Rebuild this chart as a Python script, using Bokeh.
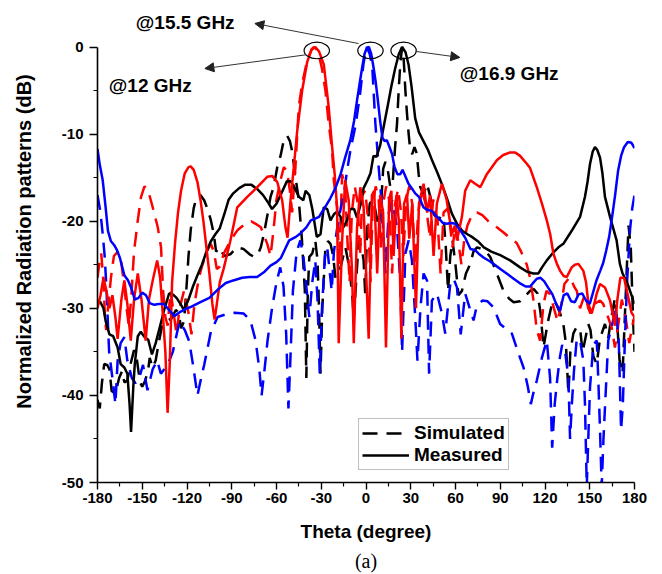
import numpy as np
from bokeh.plotting import figure
from bokeh.models import (Range1d, FixedTicker, Legend, LegendItem, Label, Arrow,
                          NormalHead, Title)
from bokeh.embed import file_html
from bokeh.resources import INLINE

# ---------------- data (theta in degree, normalized pattern in dB) ----------------
red_sim_x = [-180, -178.5, -177.5, -176, -175, -174.2, -173, -171, -169, -166.5, -164, -162, -160.5, -159,
             -157.5, -155.5, -153, -150.8, -148.5, -146.3, -143, -139.6, -137.4, -136, -134.5, -133, -131,
             -129, -127, -125, -122, -119, -117, -115, -112, -110, -106.5, -104, -102, -100, -98, -95.3,
             -90.8, -86, -81, -77, -74, -70.5, -66.2, -64, -62, -60, -57.3, -55.1, -53, -51, -49.5, -48.3,
             -47.3, -45.1, -42.8, -39.4, -36.5, -35, -33.5, -31.7, -29.5, -27.2, -25, -22.7, -21.6, -19.4,
             -18, -16, -14, -12.5, -11, -9.5, -7.5, -5.5, -4, -2.5, -0.5, 1.5, 3, 4.5, 6.5, 8.5, 10, 11.5,
             13.5, 15.5, 17.5, 19.5, 21.5, 23.5, 25, 27, 29, 31, 33, 35, 37.5, 40, 43, 45, 48, 50, 52, 55,
             58, 60, 62, 64, 66, 68, 71, 74.4, 78, 82, 87.7, 92.2, 97, 101, 104, 107.8, 110, 112.2, 114.5,
             116.7, 119, 121, 123.4, 126, 128.5, 131, 133, 136.8, 139.5, 141.3, 143.5, 145.5, 147, 149,
             150.5, 153, 156.9, 159, 161.4, 164.7, 166.9, 169, 171.5, 174, 176.5, 178.5, 180]
red_sim_y = [-26.5, -24.5, -23.7, -27, -31, -32.5, -30, -26.5, -24, -23.5, -24.8, -27.5, -30, -32,
             -29, -23.5, -19.9, -17.2, -16, -16.3, -18.4, -20.7, -23, -28, -31, -32, -28,
             -30.5, -33, -30, -28, -30.5, -33, -29.5, -26.5, -25.2, -23.4, -22.6, -23.5, -25.5, -25.2, -23.7,
             -22.2, -21, -20.3, -20, -20.3, -20.7, -22.6, -24, -21, -17.5, -15.3, -13.8, -14.2, -16.5, -19, -16,
             -13.8, -6.9, -4.2, -1.5, -0.3, 0, -0.2, -0.8, -2.5, -5, -8.8, -11.9, -15.3, -18.4,
             -25, -14.6, -16, -22, -27, -19, -16, -18, -24, -17, -16.5, -20, -27, -18, -16, -17.5, -23, -18,
             -16, -17.5, -26, -18, -16.3, -19, -24, -17.5, -16, -18, -25, -19, -16.5, -18, -22, -17.5, -20, -26, -19, -18.5,
             -23, -20.5, -22.5, -25, -22, -20.5, -19.3, -19, -19.3, -20, -20.7, -21.3, -22, -22.5, -23.5, -25, -26.5, -29, -32.5,
             -33.7, -29.5, -28, -28.4, -30, -31.5, -29.5, -27.2, -26.4, -27.5, -28, -30, -29, -28.4, -30,
             -30.6, -29.5, -29.1, -29.5, -30.6, -32.2, -34.5, -32, -29, -31, -34, -32, -31]

red_meas_x = [-180, -178, -176, -174, -172, -170, -168, -166.5, -164, -162, -160, -157.7, -155.5, -153, -150.5,
              -147.7, -145.5, -143, -140, -138, -136.5, -134.5, -133, -131.5, -130, -128, -126, -124, -121.5,
              -119, -117.5, -115.5, -113, -111, -109, -107, -105, -103, -101.5, -100, -98, -95.5, -91, -86.3,
              -79.6, -72.9, -66.2, -62.9, -59.5, -56.2, -54, -52.6, -50.6, -48.4, -46.1, -42.8, -39.4, -36.5,
              -34, -31.5, -28.3, -25, -22.7, -21, -19.4, -18.3, -16, -14, -11.6, -9.3, -8.2, -6, -3.8, -1.6,
              1.8, 4, 5.5, 7.5, 9.5, 11.5, 13.4, 15.5, 17, 18.5, 20.5, 22, 23.7, 25.5, 27.5, 29, 31, 33.5,
              35.5, 38.6, 41, 43, 45.3, 47.5, 50.9, 54, 57.6, 59.5, 61, 64.3, 66.5, 69.9, 73.2, 76.6, 81,
              87.7, 92, 96.6, 100, 103.3, 107.8, 110, 114.5, 118, 121.2, 123.5, 125.6, 128, 130.1, 132.5,
              134.6, 137.9, 140, 142.4, 145.7, 147.5, 149.1, 151.3, 153, 154.7, 156.9, 160.2, 163.6, 166.9,
              168.5, 170.5, 173, 175.5, 178, 180]
red_meas_y = [-30, -28.5, -26.5, -28, -30, -28.5, -31, -33.5, -29, -26.8, -29.5, -33.7, -29, -26, -29,
              -33.7, -29, -26.8, -24.5, -26.5, -30, -35, -42, -36, -27, -22.5, -19, -16.5, -14.5,
              -13.8, -13.7, -14.1, -15.5, -17.5, -20, -23, -26, -29.5, -31.3, -29.5, -27, -25.5, -22.3, -18.4,
              -17.2, -16.1, -14.9, -14.8, -15.5, -17.6, -20.7, -21.9, -17.6, -13.8, -9.6, -5, -1.7, -0.3,
              0, -0.5, -2, -6.9, -11.5, -14.6, -18.4, -34, -22.2, -15.3, -17.6, -26, -34, -20.7, -16.1, -18.4,
              -33.5, -17, -16.5, -26, -17, -19, -34.5, -17.5, -16.5, -24, -17, -20, -33.5, -18, -16.9, -22, -18, -30,
              -18, -15.7, -19, -17, -24, -18, -15.7, -17.5, -21.5, -20.5, -22.2, -19.5, -16.5, -15.3, -15.7, -16.1, -14.6,
              -13, -12.4, -12.1, -12.1, -12.5, -13.4, -13.9, -16.1, -18, -19.9, -21.5, -23.7, -24.9, -25.7, -26.3,
              -26.4, -25.3, -25, -24.9, -25.7, -27, -29.5, -30.6, -29.5, -28.3, -27.2, -27.6, -29.1, -32,
              -29, -26.5, -26.5, -28.5, -30.5, -31]

blue_sim_x = [-180, -178, -176.5, -175.2, -174.2, -173.2, -172.2, -170, -168, -166.5, -164.5, -162, -160, -157,
              -154.5, -152, -149.5, -146.5, -143, -140, -137.5, -133, -129.5, -125, -121.5, -118.5, -115.5,
              -113, -110.5, -108.5, -104, -99.5, -94, -88, -82, -77.5, -74, -71.5, -70, -68, -66, -63, -60,
              -57.5, -55.3, -53.5, -52, -50.5, -49, -46.5, -44, -42, -40, -38, -36, -34, -32.5, -31, -29.5,
              -27.5, -26, -24.5, -23, -21.5, -19.5, -17.5, -15, -12.5, -10.5, -7, -4, -1.6, 0.5, 2.5, 4.2,
              6.3, 8.5, 10.8, 13, 15.2, 17.5, 20.8, 23, 24.2, 26.4, 28.6, 30.8, 33, 34.5, 36.5, 38.6, 40.9,
              42.3, 44.2, 47.6, 50.9, 53.1, 56.5, 58.7, 61, 63.5, 66.5, 69.9, 72.1, 74, 78, 81.5, 85.5, 89.9,
              97.8, 103.3, 105.6, 108.5, 110.5, 112.5, 114.5, 117.9, 121.2, 123.4, 124.8, 126.5, 128.3, 130.1,
              131.5, 133.5, 135.7, 136.8, 138, 139.5, 141.3, 143.5, 145.7, 146.8, 148, 149.2, 150.2, 152.4,
              154.7, 155.7, 156.9, 158, 159.2, 160.2, 162.4, 165.5, 167.5, 169.5, 171, 172.2, 173.5, 175, 177,
              178.5, 180]
blue_sim_y = [-17, -19, -21.5, -24, -27, -31, -35, -38, -41, -36, -34, -33.3, -36, -38,
              -38.6, -38, -36.5, -39.4, -37, -36, -37.5, -36.5, -35, -31.5, -32.5, -33.8, -37,
              -40, -38, -36.5, -32.7, -31, -30.7, -30.5, -30.6, -31.4, -33.7, -37, -40, -37, -33.7, -30, -27,
              -25.3, -27.5, -33, -41.5, -35, -28, -23.5, -22.2, -24, -27.5, -31, -27, -24.5, -29, -37.5, -30,
              -24, -23, -25.5, -28, -23.5, -21, -19, -17, -14, -11.9, -9, -5.4, -1.8, 0, -0.8, -2.3,
              -8.8, -13.8, -18.5, -26, -19.1, -17.6, -20.7, -27, -35, -23.7, -22.2, -24.5, -31, -36, -30, -26, -26.8,
              -37.5, -29.1, -28.3, -30.6, -32.9, -27.2, -26.6, -27.6, -33, -28.3, -30.2, -31.4, -29.9, -29.1, -29.2, -29.9, -31.8,
              -32.9, -35.7, -36.8, -39, -41, -39.5, -38.3, -35.7, -33.7, -38, -46, -41, -38, -35.5,
              -34.2, -35, -38, -45, -41, -37, -33.5, -33.7, -36, -41, -50.5, -44, -39, -34.2,
              -33.7, -38, -44, -50.5, -45, -41.4, -33.7, -31.5, -30, -34, -44, -41, -34, -27, -21,
              -18.5, -17]

blue_meas_x = [-180, -178.5, -176.5, -174.5, -173, -171, -169, -167, -165, -162, -159.5, -157.5, -155, -152.5,
               -150, -147.5, -145, -142, -139, -135.5, -132, -128.5, -124.5, -121, -117, -111, -105, -99, -94,
               -89, -83, -78, -73, -68, -64, -60, -57, -54, -51.5, -47, -44, -40, -37, -34, -31.5, -27.5, -24,
               -20.5, -17, -14, -10.5, -8, -6, -4, -2.5, -1, 0.5, 2, 3.5, 5, 6.5, 8, 9.5, 11, 12.5, 14, 16,
               17.5, 19, 21, 23, 24.5, 26.5, 28.5, 31, 33, 35.5, 38.5, 41, 44, 46.5, 49, 51.5, 54, 57, 60, 63,
               66.5, 70, 73, 76, 79, 83, 87, 91, 95, 99, 103, 107, 110, 112.5, 114.5, 117, 119.5, 122, 125,
               127.5, 130, 132.5, 135, 137.5, 140, 142.5, 145, 147.5, 150, 152, 154.5, 157, 159, 161, 163, 165,
               167, 169, 171, 173, 175.5, 178, 180]
blue_meas_y = [-11.7, -13.5, -15.3, -18.5, -21.1, -22.3, -22.7, -23.3, -24.2, -26.2, -26.8, -27.6, -29, -28.8,
               -28.2, -28.5, -29.4, -29.6, -29.5, -29.5, -30.2, -30.9, -30.4, -30.1, -29.8, -29.3, -28.8, -27.8, -27.1,
               -26.8, -26.5, -26.4, -26.4, -25.8, -25.1, -24.7, -24.2, -23.1, -22.2, -21.8, -21.4, -20.7, -19.9, -19.7, -19.5, -18.4, -17.4,
               -16.2, -14.6, -12.7, -10.7, -8.5, -6.1, -3.9, -2.3, -0.8, -0.1, 0, -0.8, -2.3, -4, -6.2, -8.5, -10.4, -10.8, -10.7, -11.6,
               -12.3, -13.7, -14.6, -14.6, -14.1, -14.9, -15.7, -16.3, -16.8, -17.2, -18.4, -18.7, -18.8, -19.3, -19.7, -20.2, -20.3, -20.2, -20.3, -21,
               -21.9, -23.2, -23.3, -23.8, -24.2, -24.6, -25.1, -25.6, -26.1, -26.6, -27.1, -27.5, -27.5, -27, -26.6, -26.5, -26.9, -27.6, -28.4,
               -29.5, -30.3, -28.5, -28.3, -29.2, -29.3, -28.4, -28.3, -29.1, -29.5, -28.3, -26.8, -25.7, -24.8, -23.4, -21.8, -19.5,
               -17, -14.2, -12.5, -11.5, -10.9, -11, -11.6]

black_sim_x = [-180, -178.5, -177, -175.5, -173.5, -172, -170.5, -168, -165.5, -163.5, -162, -160, -158, -155.5,
               -153.5, -151.5, -150, -148, -146, -145, -143, -141, -139, -136.5, -133, -130.5, -127.5, -125.5,
               -124, -122, -120.5, -119, -117.5, -115.5, -113.5, -111, -108.5, -106, -104, -102, -100.5, -98.5,
               -95, -91, -86.5, -82, -78, -75, -72.5, -70.5, -68.5, -66, -64, -61.8, -59.5, -57.3, -55, -52.8,
               -51, -49.5, -47.3, -45.1, -43, -41, -40, -39, -38, -36, -34, -32.5, -31.5, -30.5, -29.3, -27.2,
               -25.5, -23.8, -22, -20.5, -19.4, -17.1, -13.8, -11, -9, -8.2, -7, -4.9, -3, -1.6, -0.5, 0.7, 2.5,
               4.1, 6, 8.5, 10, 11.5, 13, 14.5, 16.3, 18, 19.5, 20.8, 21.9, 23, 24.2, 25.3, 26.4, 27.5, 28.6,
               29.7, 31, 32.5, 34, 35.3, 36.4, 38.6, 40.9, 43.1, 45.4, 48.7, 50, 52, 53.5, 55, 56.5, 58, 60,
               62, 64.3, 67, 69.9, 72, 74.4, 78, 81, 83.3, 87.7, 92.2, 96, 99, 103.3, 106.7, 110, 112.5, 115,
               117, 119, 120.5, 122, 124, 125.6, 127.5, 130, 132.3, 134, 135.7, 137, 139, 141, 143.5, 145.2,
               146.8, 149, 150.5, 152.4, 154.7, 156.9, 158, 160.2, 162.4, 164.5, 166.9, 168.5, 170, 172, 174,
               176, 177.5, 179, 180]
black_sim_y = [-40.5, -41.5, -38.5, -36.4, -36.5, -37, -39.5, -39.8, -38, -37.2, -38.5, -38.3, -36.5, -34.8,
               -36, -38.5, -39, -38.3, -37, -35.7, -36.8, -36, -34, -31.8, -31.4, -31.2, -30.2, -30.5,
               -32.3, -31.5, -28, -24, -21, -18.5, -17.2, -17, -17.6, -18.7, -19.9, -21.5, -23.5, -23,
               -24, -23.8, -23, -23.2, -23.8, -24.1, -23.8, -23, -21.5, -19.2, -17.2, -16, -13.8, -12.5, -10.6, -10.2,
               -10.8, -12, -14.9, -17.5, -22, -28, -38, -28, -24.1, -23.7, -22.2, -24.5, -30, -37.5, -30, -23,
               -22.3, -22.6, -24, -26.5, -26, -25.3, -23, -25.5, -29, -31.4, -28, -22.2, -23, -24.5, -28.5, -21, -18,
               -17.6, -18.5, -20.7, -18.5, -14, -13.2, -14, -16.1, -15.3, -11.5, -8.8, -5, -1.9, 0, -1.5, -5, -7.7, -10,
               -11.9, -12.3, -11.5, -12.2, -14.6, -16.1, -16.9, -15.7, -17.2, -19.2, -19.9, -19.4, -19.5, -23, -28, -24, -22.2, -25,
               -28.5, -28, -26, -24.9, -23.5, -23, -23.2, -23.6, -24.1, -26, -28, -28.9, -29.3, -29.2, -28.6, -28, -27.8, -28.3,
               -30.5, -34.5, -33, -31.5, -30, -29.1, -29.5, -30.5, -31.8, -34, -39.8, -35, -32.9, -32.2, -32.3, -35,
               -33.7, -31.8, -32.5, -35.5, -36.4, -33.4, -32.9, -31.8, -33.4, -31, -28.8, -32, -36, -37.5, -29,
               -20.5, -23, -31, -35]

black_meas_x = [-180, -178, -176, -174.5, -172, -169.5, -166.5, -164.5, -162, -160, -158.5, -157.5, -156, -155,
                -153, -151, -148.5, -146, -143.5, -141, -138, -135, -132, -129.5, -127, -124, -122, -119, -116,
                -113, -110, -107, -104, -101, -98, -95, -92, -89, -85, -81, -77, -73, -69, -65.5, -63, -60, -57,
                -53, -50.5, -47.5, -45, -42, -40.5, -38, -36, -33, -30.5, -28.3, -26, -23.8, -21.5, -19.4, -17,
                -15, -12.5, -10.5, -8, -6, -3.5, -1.6, 1, 3, 5, 7, 9.5, 12, 14.5, 17, 19.5, 22, 24.2, 26.5, 28.5,
                30.5, 33, 35.5, 38.5, 41.5, 44.5, 48, 51, 54.5, 57.5, 61, 64.5, 68, 71, 75, 79, 84, 90, 96.6,
                103.3, 108, 112.2, 115.6, 118, 121.2, 125, 129, 132.3, 137.9, 143.5, 146.8, 148.5, 150.2, 152,
                153.5, 155, 156.9, 158.5, 160.2, 163.6, 168, 170.2, 172, 175, 177, 180]
black_meas_y = [-29.1, -29.3, -30, -31.5, -33, -33.2, -34.5, -36.4, -36.8, -37.5, -41, -44.2, -39, -36.4,
                -33.2, -32.7, -33.3, -33.6, -35.3, -34, -32, -30, -28.3, -28.4, -28.8, -29.6, -30.2, -29, -27.5,
                -26.2, -25, -23.5, -22.3, -21.5, -20.8, -19.2, -17.5, -16.8, -16.2, -15.8, -15.8, -16.3, -17, -17.9, -18.6, -18, -16.9,
                -15.4, -15.4, -16.3, -17.2, -17.6, -16.5, -17, -18.6, -21.8, -21.5, -18.4, -18.6, -19.9, -19.2, -18.9, -19.5,
                -20.7, -19.8, -18.6, -18.6, -19.6, -18, -16.2, -15.3, -14.5, -12.5, -12.6, -11.3, -9, -6.8, -4.5, -2.5, -0.8, 0, -0.6, -2,
                -4.5, -8.2, -9.8, -10.8, -11.8, -13.1, -14.5, -15.8, -17.5, -19.1, -20.3, -21.1, -21.5, -21.8, -22.3, -23, -23.5, -23.9, -24.5,
                -25.3, -25.8, -26, -26, -25.3, -24.5, -23.7, -23, -22.6, -21.1, -19.5, -17.2, -15.5, -13.4, -12,
                -11.5, -11.8, -12.7, -14.5, -17.2, -19.5, -22.2, -24.9, -26, -27, -28, -29.5]

tick_vals = list(range(-180, 181, 30))
y_tick_vals = list(range(-50, 1, 10))

# annotation texts: (label, left theta, middle dB)
ann_texts = [("@15.5 GHz", -154.3, 2.76), ("@12 GHz", -172.4, -4.42), ("@16.9 GHz", 62.9, -2.99)]
# arrow heads (theta, dB), one per frequency: 15.5, 12, 16.9
arrow_heads = [(-74.5, 2.7), (-108.0, -2.47), (62.9, -1.2)]

# ---------------- figure ----------------
W, H = 662, 574
YTOP = 5.34
p = figure(width=W, height=H, output_backend="svg", toolbar_location=None,
           x_range=Range1d(-180, 180), y_range=Range1d(-50, YTOP),
           min_border_left=97, min_border_right=28, min_border_top=0, min_border_bottom=92,
           title_location=None)
p.outline_line_color = None
p.xgrid.visible = False
p.ygrid.visible = False
p.background_fill_color = "white"
p.border_fill_color = "white"

FONT = "Liberation Sans"
for ax in (p.xaxis[0], p.yaxis[0]):
    ax.axis_line_color = "black"
    ax.axis_line_width = 1.6
    ax.major_tick_line_color = "black"
    ax.minor_tick_line_color = "black"
    ax.major_tick_line_width = 1.4
    ax.minor_tick_line_width = 1.2
    ax.major_tick_in = 0
    ax.minor_tick_in = 0
    ax.major_label_text_font = FONT
    ax.major_label_text_font_style = "bold"
    ax.major_label_text_font_size = "15px"
    ax.major_label_text_color = "black"
    ax.axis_label_text_font = FONT
    ax.axis_label_text_font_style = "bold"
    ax.axis_label_text_color = "black"

xa = p.xaxis[0]
xa.ticker = FixedTicker(ticks=tick_vals, minor_ticks=list(range(-165, 180, 30)))
xa.major_label_overrides = {v: str(v) for v in tick_vals}
xa.major_tick_out = 7
xa.minor_tick_out = 4
xa.major_label_standoff = 3
xa.axis_label = "Theta (degree)"
xa.axis_label_text_font_size = "19px"
xa.axis_label_standoff = 15

ya = p.yaxis[0]
ya.ticker = FixedTicker(ticks=y_tick_vals, minor_ticks=list(range(-45, 0, 10)))
ya.major_label_overrides = {v: str(v) for v in y_tick_vals}
ya.bounds = (-50, 0)
ya.major_tick_out = 8
ya.minor_tick_out = 4
ya.major_label_standoff = 6
ya.axis_label = "Normalized Radiation patterns (dB)"
ya.axis_label_text_font_size = "20px"
ya.axis_label_standoff = 24

DASH = "15 9"
LW = 2.5
r_bsim = p.line(black_sim_x, black_sim_y, line_color="black", line_width=LW, line_dash=DASH)
p.line(red_sim_x, red_sim_y, line_color="#ff0000", line_width=LW, line_dash=DASH)
p.line(blue_sim_x, blue_sim_y, line_color="#0000ff", line_width=LW, line_dash=DASH)
r_bmeas = p.line(black_meas_x, black_meas_y, line_color="black", line_width=LW)
p.line(red_meas_x, red_meas_y, line_color="#ff0000", line_width=LW)
p.line(blue_meas_x, blue_meas_y, line_color="#0000ff", line_width=LW)

# peak circles
peaks_x, peaks_y = [], []
for xs, ys in ((blue_meas_x, blue_meas_y), (red_meas_x, red_meas_y), (black_meas_x, black_meas_y)):
    i = int(np.argmax(ys))
    peaks_x.append(xs[i] + 1.0)
    peaks_y.append(ys[i] - 0.4)
p.ellipse(x=peaks_x, y=peaks_y, width=17.0, height=1.9, fill_color=None,
          line_color="black", line_width=1.2)

# arrows from circles to labels
starts = [(peaks_x[0] - 8.0, peaks_y[0] + 0.8), (peaks_x[1] - 7.5, peaks_y[1] - 0.5),
          (peaks_x[2] + 8.0, peaks_y[2] - 0.1)]
for (xs0, ys0), (xe, ye) in zip(starts, arrow_heads):
    p.add_layout(Arrow(end=NormalHead(size=9, fill_color="#222222", line_color="#222222", line_width=1),
                       x_start=xs0, y_start=ys0, x_end=xe, y_end=ye,
                       line_color="#333333", line_width=1))

for txt, tx, ty in ann_texts:
    p.add_layout(Label(x=tx, y=ty, text=txt, text_font=FONT, text_font_style="bold",
                       text_font_size="19px", text_baseline="middle", text_align="left",
                       text_color="black"))

legend = Legend(items=[LegendItem(label="Simulated", renderers=[r_bsim]),
                       LegendItem(label="Measured", renderers=[r_bmeas])],
                location=(261, 12), orientation="vertical")
legend.label_text_font = FONT
legend.label_text_font_style = "bold"
legend.label_text_font_size = "19px"
legend.label_text_color = "black"
legend.glyph_width = 47
legend.glyph_height = 20
legend.label_standoff = 5
legend.padding = 3
legend.spacing = 0
legend.margin = 0
legend.border_line_color = "#7f7f7f"
legend.border_line_width = 1
legend.background_fill_color = "white"
legend.background_fill_alpha = 1.0
p.add_layout(legend)

cap = Title(text="(a)", align="center", text_font="Liberation Serif", text_font_style="normal",
            text_font_size="20px", text_color="black", standoff=6)
p.add_layout(cap, "below")

open("out.html", "w").write(file_html(p, INLINE))
